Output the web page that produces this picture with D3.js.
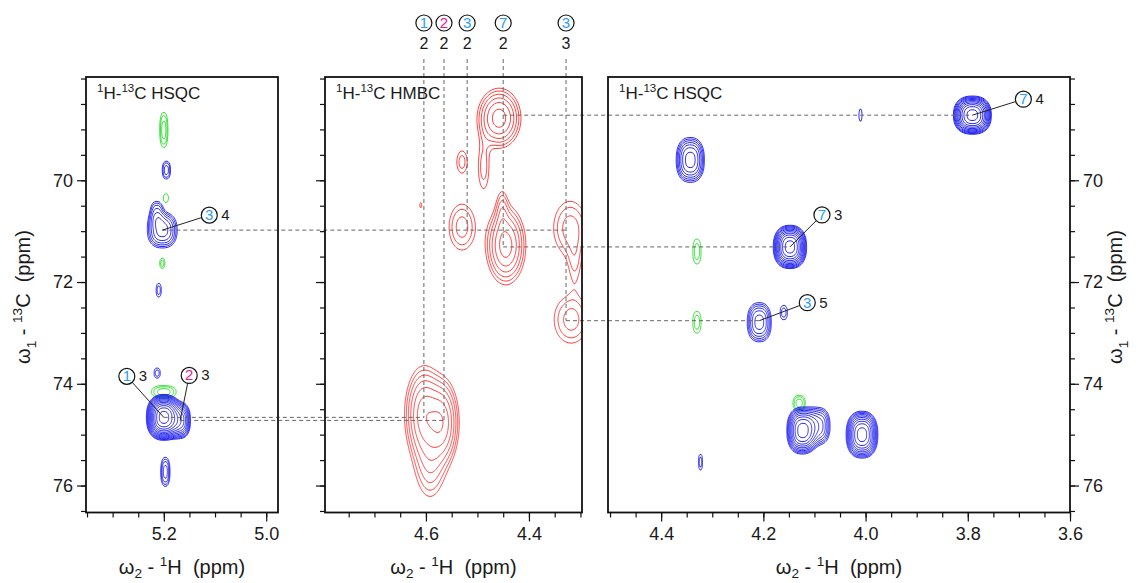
<!DOCTYPE html>
<html>
<head>
<meta charset="utf-8">
<script src="https://cdn.jsdelivr.net/npm/d3@7"></script>
<style>
  body { margin: 0; background: #fff; }
  svg text { font-family: "Liberation Sans", Arial, sans-serif; fill: #1a1a1a; white-space: pre; }
</style>
</head>
<body>
<svg id="chart" width="1138" height="583"></svg>
<script>
// ---- data (ppm) ----
const panelTitles = ["HSQC", "HMBC", "HSQC"];
const hDomains = [[5.352, 4.977], [4.796, 4.297], [4.504, 3.600]];
const cDomain = [67.97, 76.53];
const hMajor = [[5.2, 5.0], [4.6, 4.4], [4.4, 4.2, 4.0, 3.8, 3.6]];
const cMajor = [70, 72, 74, 76];

// peaks: [1H, 13C, outer width 1H, outer width 13C, number of contours]
const hsqcLeftBlue = [
  [5.195, 69.80, 0.016, 0.35, 3],
  [5.203, 70.98, 0.058, 0.70, 6],
  [5.214, 70.62, 0.022, 0.40, 3],
  [5.210, 72.16, 0.010, 0.27, 2],
  [5.213, 73.79, 0.012, 0.20, 2],
  [5.200, 74.66, 0.068, 0.90, 13],
  [5.168, 74.72, 0.040, 0.70, 8],
  [5.197, 75.73, 0.018, 0.57, 4]
];
const hsqcLeftGreen = [
  [5.200, 69.01, 0.016, 0.69, 3],
  [5.196, 70.35, 0.010, 0.17, 1],
  [5.203, 71.63, 0.010, 0.20, 2],
  [5.200, 74.16, 0.048, 0.25, 3]
];
const hmbcRed = [
  [4.458, 68.78, 0.085, 1.18, 6],
  [4.488, 69.75, 0.020, 0.80, 2],
  [4.530, 69.64, 0.020, 0.43, 2],
  [4.610, 70.49, 0.004, 0.10, 1],
  [4.530, 70.92, 0.050, 0.90, 3],
  [4.445, 71.28, 0.078, 1.55, 6],
  [4.452, 70.55, 0.016, 0.55, 2],
  [4.320, 70.94, 0.064, 1.05, 3],
  [4.311, 71.65, 0.012, 0.40, 1],
  [4.318, 72.74, 0.066, 0.92, 3],
  [4.604, 74.60, 0.075, 1.90, 6],
  [4.568, 74.76, 0.065, 1.70, 6],
  [4.592, 75.60, 0.050, 1.20, 3]
];
const hsqcRightBlue = [
  [3.791, 68.72, 0.074, 0.75, 11],
  [4.010, 68.72, 0.006, 0.24, 1],
  [4.343, 69.60, 0.055, 0.88, 7],
  [4.148, 71.31, 0.065, 0.85, 11],
  [4.208, 72.79, 0.047, 0.77, 6],
  [4.160, 72.60, 0.014, 0.28, 2],
  [4.124, 74.92, 0.060, 0.92, 10],
  [4.092, 74.83, 0.045, 0.72, 6],
  [4.007, 75.00, 0.062, 0.92, 10],
  [4.323, 75.54, 0.008, 0.31, 2]
];
const hsqcRightGreen = [
  [4.330, 71.40, 0.016, 0.49, 2],
  [4.330, 72.79, 0.016, 0.43, 2],
  [4.130, 74.38, 0.024, 0.31, 3]
];

// HSQC assignments: panel, 1H, 13C, residue, atom
const hsqcLabels = [
  [0, 5.203, 70.98, "3", "4"],
  [0, 5.200, 74.66, "1", "3"],
  [0, 5.168, 74.72, "2", "3"],
  [2, 3.791, 68.72, "7", "4"],
  [2, 4.148, 71.31, "7", "3"],
  [2, 4.208, 72.76, "3", "5"]
];
// HMBC columns on top of the middle panel
const hmbcH = [4.604, 4.565, 4.520, 4.450, 4.328];
const hmbcRes = ["1", "2", "3", "7", "3"];
const hmbcAtom = ["2", "2", "2", "2", "3"];
const hmbcEndC = [74.66, 74.72, 70.98, 71.31, 72.76];
// horizontal links: [panel from, 1H from, panel to, 1H to, 13C]
const links = [
  [0, 5.200, 1, 4.604, 74.66],
  [0, 5.168, 1, 4.565, 74.72],
  [0, 5.203, 1, 4.328, 70.98],
  [1, 4.450, 2, 3.791, 68.72],
  [1, 4.450, 2, 4.148, 71.31],
  [1, 4.328, 2, 4.208, 72.76]
];

// ---- layout ----
const svg = d3.select("#chart");
const xRanges = [[86, 278], [325, 582], [608, 1070]];
const yTop = 77, yBot = 512.5;
const y = d3.scaleLinear().domain(cDomain).range([yTop, yBot]);
const xs = hDomains.map((d, i) => d3.scaleLinear().domain(d).range(xRanges[i]));
const resColor = r => r === "2" ? "#f0168c" : "#2a9df4";
const BLUE = "#1414ee", GREEN = "#22dd22", RED = "#ff2a2a";

const spectra = [
  { f: 1.3, p: 2.4, sets: [[hsqcLeftGreen, GREEN], [hsqcLeftBlue, BLUE]] },
  { f: 1.4, p: 2.0, sets: [[hmbcRed, RED]] },
  { f: 1.3, p: 2.4, sets: [[hsqcRightGreen, GREEN], [hsqcRightBlue, BLUE]] }
];

const stepTicks = (lo, hi, s) => d3.range(Math.ceil(lo / s - 1e-6), Math.floor(hi / s + 1e-6) + 1).map(k => +(k * s).toFixed(3));

function drawContours(g, x, peaks, color, f, p) {
  const [h0, h1] = x.domain(), [c0, c1] = y.domain();
  const pad = 12;
  const wpx = Math.round(Math.abs(x(h1) - x(h0))), hpx = Math.round(Math.abs(y(c1) - y(c0)));
  const nx = wpx + 2 * pad, ny = hpx + 2 * pad;
  const dh = (h1 - h0) / wpx, dc = (c1 - c0) / hpx;
  const values = new Float64Array(nx * ny);
  peaks.forEach(([h, c, wh, wc, n]) => {
    const A = Math.pow(f, n - 0.5);
    const u = Math.pow(2 * Math.log(A), 1 / p);
    const sh = wh / 2 / u, sc = wc / 2 / u;
    const ic = (h - h0) / dh + pad, jc = (c - c0) / dc + pad;
    const ri = 4 * sh / Math.abs(dh), rj = 4 * sc / Math.abs(dc);
    const ia = Math.max(0, Math.floor(ic - ri)), ib = Math.min(nx - 1, Math.ceil(ic + ri));
    const ja = Math.max(0, Math.floor(jc - rj)), jb = Math.min(ny - 1, Math.ceil(jc + rj));
    for (let j = ja; j <= jb; j++) {
      const v = Math.pow(Math.abs((c0 + (j - pad) * dc - c) / sc), p);
      for (let i = ia; i <= ib; i++) {
        const q = Math.pow(Math.abs((h0 + (i - pad) * dh - h) / sh), p);
        values[j * nx + i] += A * Math.exp(-0.5 * (q + v));
      }
    }
  });
  const levels = d3.range(0, 18).map(k => Math.pow(f, k));
  const proj = d3.geoTransform({
    point(gx, gy) { this.stream.point(x(h0 + (gx - 0.5 - pad) * dh), y(c0 + (gy - 0.5 - pad) * dc)); }
  });
  const path = d3.geoPath(proj);
  g.append("g").selectAll("path")
    .data(d3.contours().size([nx, ny]).thresholds(levels)(values).filter(d => d.coordinates.length))
    .join("path")
    .attr("d", path)
    .attr("fill", "none")
    .attr("stroke", color)
    .attr("stroke-width", 0.9);
}

function richText(sel, parts, size, subShift = 0.3) {
  let cur = 0;
  parts.forEach(([t, s]) => {
    const target = s === 1 ? -0.42 * size : s === -1 ? subShift * size : 0;
    sel.append("tspan").attr("dy", target - cur).attr("font-size", s ? size * 0.68 : size).text(t);
    cur = target;
  });
}

const defs = svg.append("defs");

// spectra
xs.forEach((x, i) => {
  const [x0, x1] = x.range();
  defs.append("clipPath").attr("id", "clip" + i)
    .append("rect").attr("x", x0).attr("y", yTop).attr("width", x1 - x0).attr("height", yBot - yTop);
  const g = svg.append("g").attr("clip-path", `url(#clip${i})`);
  spectra[i].sets.forEach(([peaks, color]) => drawContours(g, x, peaks, color, spectra[i].f, spectra[i].p));
});

// dashed guide lines
const dash = svg.append("g").attr("stroke", "#666").attr("stroke-width", 1).attr("stroke-dasharray", "4,3").attr("fill", "none");
hmbcH.forEach((h, k) => {
  dash.append("line")
    .attr("x1", xs[1](h)).attr("x2", xs[1](h))
    .attr("y1", 59).attr("y2", y(hmbcEndC[k]));
});
links.forEach(([pa, ha, pb, hb, c]) => {
  dash.append("line")
    .attr("x1", xs[pa](ha)).attr("x2", xs[pb](hb))
    .attr("y1", y(c)).attr("y2", y(c));
});

// frames, titles, axes
xs.forEach((x, i) => {
  const [x0, x1] = x.range();
  svg.append("rect").attr("x", x0).attr("y", yTop).attr("width", x1 - x0).attr("height", yBot - yTop)
    .attr("fill", "none").attr("stroke", "#111").attr("stroke-width", 1.8);

  const t = svg.append("text").attr("x", x0 + 11).attr("y", yTop + 22);
  richText(t, [["1", 1], ["H-", 0], ["13", 1], ["C " + panelTitles[i], 0]], 17);

  const [lo, hi] = d3.extent(x.domain());
  const gx = svg.append("g").attr("transform", `translate(0,${yBot})`);
  gx.append("g").call(d3.axisBottom(x).tickValues(stepTicks(lo, hi, 0.05)).tickSize(5).tickSizeOuter(0).tickFormat(""));
  gx.append("g").call(d3.axisBottom(x).tickValues(hMajor[i]).tickSize(9).tickSizeOuter(0).tickPadding(6).tickFormat(d3.format(".1f")));
  gx.selectAll(".domain").remove();
  gx.selectAll("text").attr("font-size", 18).attr("font-family", null);
  gx.selectAll("line").attr("stroke", "#111").attr("stroke-width", 1.2);

  const xt = svg.append("text").attr("x", (x0 + x1) / 2).attr("y", 574).attr("text-anchor", "middle");
  richText(xt, [["ω", 0], ["2", -1], [" - ", 0], ["1", 1], ["H  (ppm)", 0]], 20, 0.22);

  const right = i === 2;
  const axisFn = right ? d3.axisRight : d3.axisLeft;
  const gy = svg.append("g").attr("transform", `translate(${right ? x1 : x0},0)`);
  gy.append("g").call(axisFn(y).tickValues(stepTicks(68, 76.5, 0.5)).tickSize(5).tickSizeOuter(0).tickFormat(""));
  gy.append("g").call(axisFn(y).tickValues(cMajor).tickSize(9).tickSizeOuter(0).tickPadding(4)
    .tickFormat(i === 1 ? "" : d3.format("d")));
  gy.selectAll(".domain").remove();
  gy.selectAll("text").attr("font-size", 18).attr("font-family", null);
  gy.selectAll("line").attr("stroke", "#111").attr("stroke-width", 1.2);
});

// y axis titles
[[30, 297], [1122, 297]].forEach(([cx, cy]) => {
  const t = svg.append("text").attr("transform", `translate(${cx},${cy}) rotate(-90)`).attr("text-anchor", "middle");
  richText(t, [["ω", 0], ["1", -1], [" - ", 0], ["13", 1], ["C  (ppm)", 0]], 20);
});

// circled residue labels
const R = 8;
function circleLabel(cx, cy, res) {
  const g = svg.append("g");
  g.append("circle").attr("cx", cx).attr("cy", cy).attr("r", R).attr("fill", "#fff").attr("stroke", "#111").attr("stroke-width", 1.2);
  g.append("text").attr("x", cx).attr("y", cy + 5).attr("text-anchor", "middle").attr("font-size", 15)
    .style("fill", resColor(res)).text(res);
}

const labelOffsets = [[47, -15], [-37, -41], [9, -45], [51, -16], [32, -32], [48, -18]];
hsqcLabels.forEach(([p, h, c, res, atom], k) => {
  const px = xs[p](h), py = y(c);
  const cx = px + labelOffsets[k][0], cy = py + labelOffsets[k][1];
  const len = Math.hypot(cx - px, cy - py);
  svg.append("line")
    .attr("x1", px).attr("y1", py)
    .attr("x2", cx - (cx - px) / len * R).attr("y2", cy - (cy - py) / len * R)
    .attr("stroke", "#222").attr("stroke-width", 1);
  circleLabel(cx, cy, res);
  svg.append("text").attr("x", cx + R + 4).attr("y", cy + 5).attr("font-size", 15).text(atom);
});

hmbcH.forEach((h, k) => {
  const cx = xs[1](h);
  circleLabel(cx, 23, hmbcRes[k]);
  svg.append("text").attr("x", cx).attr("y", 49).attr("text-anchor", "middle").attr("font-size", 16).text(hmbcAtom[k]);
});
</script>
</body>
</html>
